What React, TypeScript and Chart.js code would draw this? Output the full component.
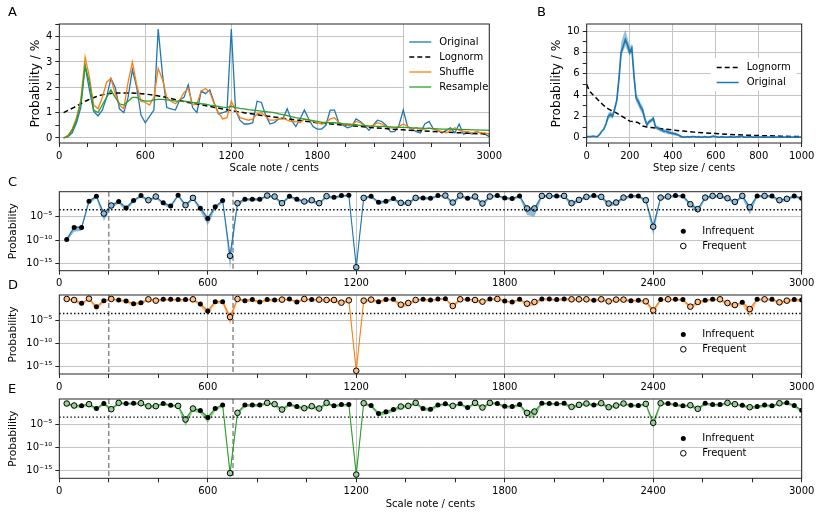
import React, { useEffect, useRef } from "react";
import { Chart, registerables } from "chart.js";
Chart.register(...registerables);

const FONT = "'DejaVu Sans', 'Liberation Sans', sans-serif";
const GRID = "#c4c4c4";
const FRAME = "#262626";
const BLUE = "#1f77b4";
const ORANGE = "#ff7f0e";
const GREEN = "#2ca02c";

// ---------- Panel A : scale note distributions (percent) ----------
const noteCents = Array.from({ length: 100 }, (_, i) => 30 * (i + 1));
const aOriginal = [0.0,0.05,0.2,0.6,1.2,2.85,1.9,1.05,0.87,1.1, 1.6,2.35,2.0,1.15,1.0,1.6,2.7,2.0,0.9,0.6, 0.85,1.1,4.3,2.5,1.2,1.15,1.1,1.5,1.6,2.1, 1.2,1.0,1.85,1.75,1.9,1.4,0.95,1.0,1.05,4.3, 1.1,0.7,0.55,0.55,0.6,1.45,1.4,0.9,0.55,0.6, 0.75,0.75,1.15,0.7,0.45,0.75,1.1,0.75,0.45,0.35, 0.35,0.5,1.1,1.1,0.6,0.5,0.4,0.45,0.75,0.65, 0.5,0.3,0.5,0.7,0.65,0.5,0.25,0.25,0.5,1.1, 0.45,0.35,0.25,0.2,0.55,0.65,0.35,0.3,0.2,0.3, 0.4,0.2,0.55,0.15,0.2,0.15,0.25,0.2,0.15,0.05];
const aShuffle = [0.0,0.1,0.35,0.8,1.5,3.2,2.4,1.3,1.15,1.6, 2.2,2.35,1.75,1.3,1.15,2.2,3.0,2.1,1.45,1.4, 1.3,1.6,2.75,2.3,1.6,1.45,1.35,1.5,1.8,1.95, 1.3,1.35,1.85,1.95,1.8,1.35,1.0,0.75,0.8,1.45, 1.1,0.8,0.75,0.7,0.75,0.95,1.0,0.85,0.7,0.7, 0.75,0.8,0.7,0.65,0.65,0.6,0.75,0.7,0.65,0.6, 0.55,0.6,0.75,0.8,0.6,0.55,0.5,0.5,0.65,0.6, 0.5,0.45,0.5,0.6,0.55,0.45,0.4,0.4,0.45,0.55, 0.45,0.35,0.4,0.35,0.35,0.4,0.35,0.3,0.25,0.2, 0.3,0.4,0.3,0.25,0.25,0.2,0.25,0.2,0.2,0.15];
const aResample = [0.0,0.05,0.3,0.7,1.4,2.85,2.2,1.1,1.0,1.3, 1.6,1.9,1.6,1.35,1.3,1.45,1.6,1.6,1.5,1.45, 1.45,1.5,1.52,1.52,1.5,1.48,1.45,1.45,1.45,1.43, 1.4,1.38,1.35,1.33,1.3,1.28,1.25,1.22,1.2,1.25, 1.2,1.17,1.15,1.12,1.1,1.08,1.06,1.04,1.02,1.0, 0.95,0.92,0.88,0.84,0.8,0.77,0.74,0.71,0.68,0.65, 0.62,0.61,0.6,0.6,0.58,0.56,0.55,0.53,0.52,0.5, 0.5,0.48,0.47,0.46,0.46,0.45,0.44,0.43,0.42,0.42, 0.41,0.4,0.4,0.39,0.38,0.38,0.37,0.36,0.35,0.35, 0.35,0.34,0.34,0.33,0.33,0.32,0.32,0.31,0.31,0.3];
const aLognormX = [30,100,200,300,400,500,600,700,800,900,1000,1200,1400,1600,1800,2000,2200,2400,2600,2800,3000];
const aLognorm = [1.0,1.2,1.5,1.7,1.77,1.77,1.73,1.65,1.53,1.4,1.3,1.08,0.9,0.75,0.6,0.5,0.4,0.32,0.26,0.2,0.15];
const aXTicks = [0,200,400,600,800,1000,1200,1400,1600,1800,2000,2200,2400,2600,2800,3000];
const aXLabels = [0,600,1200,1800,2400,3000];
const aYTicks = [0,0.5,1,1.5,2,2.5,3,3.5,4,4.5];
const aYLabels = [0,1,2,3,4];

// ---------- Panel B : step sizes (percent) ----------
const stepCents = Array.from({ length: 101 }, (_, i) => 10 * i);
const bOriginal = [0.1,0.1,0.1,0.15,0.1,0.1,0.3,0.6,0.8,1.3, 2.0,2.2,2.0,2.7,3.5,5.5,8.0,8.6,9.2,8.7, 8.0,8.4,5.8,3.7,3.4,2.9,2.6,1.8,1.2,1.5, 1.6,1.8,1.0,0.9,0.8,0.7,0.6,0.6,0.5,0.45, 0.4,0.35,0.3,0.2,0.1,0.05,0.05,0.1,0.05,0.1, 0.1,0.05,0.1,0.05,0.05,0.1,0.05,0.05,0.1,0.15, 0.1,0.05,0.05,0.1,0.05,0.05,0.05,0.1,0.05,0.05, 0.1,0.05,0.15,0.05,0.05,0.05,0.1,0.05,0.05,0.05, 0.05,0.05,0.05,0.05,0.05,0.05,0.05,0.05,0.05,0.05, 0.05,0.05,0.05,0.05,0.05,0.05,0.05,0.05,0.05,0.05,0.05];
const bBandX = [90,100,110,120,130,140,150,160,170,180,190,200,210,220,230,240,250,260,270,280,290,300,310,320,330,340,350,360,370,380,390,400,410,420,430,440,450,460];
const bBandLo = [1.1,1.7,1.9,1.8,2.4,3.2,5.0,7.6,8.1,8.6,8.1,7.7,8.0,5.3,3.3,3.0,2.5,2.2,1.5,1.0,1.3,1.4,1.6,0.8,0.7,0.6,0.5,0.4,0.4,0.3,0.3,0.25,0.2,0.15,0.1,0.0,0.0,0.0];
const bBandHi = [1.5,2.3,2.5,2.3,3.0,3.8,6.0,8.9,9.6,10.1,9.4,8.5,8.8,6.3,4.1,3.8,3.3,3.0,2.1,1.4,1.7,1.8,2.0,1.2,1.1,1.0,0.9,0.8,0.8,0.7,0.6,0.55,0.5,0.45,0.3,0.2,0.1,0.1];
const bLognormX = [0,10,20,30,45,60,80,100,120,140,160,180,200,220,240,260,280,300,350,400,450,500,550,600,650,700,750,800,850,900,950,1000];
const bLognorm = [5.0,4.5,4.2,4.0,3.7,3.4,3.0,2.7,2.5,2.3,2.05,1.8,1.55,1.5,1.4,1.1,1.0,0.95,0.82,0.72,0.62,0.52,0.45,0.4,0.32,0.27,0.23,0.2,0.17,0.14,0.12,0.1];
const bXTicks = [0,100,200,300,400,500,600,700,800,900,1000];
const bXLabels = [0,200,400,600,800,1000];
const bYTicks = [0,1,2,3,4,5,6,7,8,9,10];
const bYLabels = [0,2,4,6,8,10];

// ---------- Panels C, D, E : probability per note (log10 exponents) ----------
const cLog = [-9.86,-7.3,-7.3,-1.64,-0.57,-4.3,-2.57,-1.7,-3.1,-1.5, -0.43,-1.43,-0.64,-2.0,-2.7,-0.36,-2.5,-0.93,-3.14,-5.36, -2.86,-1.5,-13.4,-2.07,-1.2,-1.2,-1.2,-0.43,-0.64,-2.07, -0.57,-1.2,-1.7,-1.43,-2.07,-0.57,-0.79,-0.43,-0.36,-15.86, -0.93,-0.57,-1.86,-1.64,-1.07,-2.0,-2.0,-0.93,-0.93,-1.0, -0.43,-0.43,-1.93,-0.43,-1.0,-0.64,-2.14,-0.64,-0.43,-0.93, -1.07,-0.5,-3.2,-3.2,-0.5,-0.5,-0.5,-0.5,-2.07,-1.36, -0.71,-0.43,-0.71,-2.14,-1.93,-0.86,-0.5,-0.5,-1.43,-7.14, -0.86,-0.64,-0.43,-0.5,-2.29,-3.36,-0.86,-0.5,-0.5,-1.0, -1.79,-0.5,-2.93,-0.5,-0.5,-0.5,-1.43,-1.14,-0.5,-1.0];
const cLo = [-10.2,-8.2,-8.0,-2.2,-1.0,-5.9,-3.1,-2.2,-3.7,-1.9, -0.8,-1.9,-1.0,-2.5,-3.2,-0.7,-3.0,-1.4,-3.8,-6.8, -3.4,-2.0,-16.2,-2.6,-1.6,-1.6,-1.6,-0.8,-1.0,-2.6, -0.9,-1.6,-2.2,-1.9,-2.6,-0.9,-1.2,-0.8,-0.7,-16.3, -1.3,-0.9,-2.3,-2.1,-1.5,-2.5,-2.5,-1.3,-1.3,-1.4, -0.8,-0.8,-2.6,-0.8,-1.4,-1.0,-2.8,-1.0,-0.8,-1.3, -1.5,-0.9,-4.6,-5.0,-0.9,-0.9,-0.9,-0.9,-2.8,-1.8, -1.1,-0.8,-1.1,-2.8,-2.5,-1.3,-0.9,-0.9,-1.9,-8.9, -1.3,-1.0,-0.8,-0.9,-2.9,-4.2,-1.3,-0.9,-0.9,-1.4, -2.3,-0.9,-4.5,-0.9,-0.9,-0.9,-1.9,-1.6,-0.9,-1.4];
const cHi = [-9.5,-7.0,-7.0,-1.4,-0.4,-3.9,-2.3,-1.5,-2.8,-1.3, -0.3,-1.2,-0.5,-1.8,-2.4,-0.25,-2.2,-0.7,-2.9,-4.9, -2.6,-1.3,-12.8,-1.8,-1.0,-1.0,-1.0,-0.3,-0.5,-1.8, -0.4,-1.0,-1.5,-1.2,-1.8,-0.4,-0.6,-0.3,-0.25,-15.5, -0.7,-0.4,-1.6,-1.4,-0.9,-1.8,-1.8,-0.7,-0.7,-0.8, -0.3,-0.3,-1.7,-0.3,-0.8,-0.5,-1.9,-0.5,-0.3,-0.7, -0.9,-0.35,-2.9,-2.9,-0.35,-0.35,-0.35,-0.35,-1.8,-1.1, -0.5,-0.3,-0.5,-1.9,-1.7,-0.7,-0.35,-0.35,-1.2,-6.6, -0.7,-0.5,-0.3,-0.35,-2.0,-3.0,-0.7,-0.35,-0.35,-0.8, -1.6,-0.35,-2.6,-0.35,-0.35,-0.35,-1.2,-0.9,-0.35,-0.8];
const cFreq = ".....oo..." + ".oo...oo.." + "..oo...ooo" + "..oooo...o" + "o....ooo.." + ".ooo.ooo.." + "..oooo.ooo" + "o.oooo..oo" + "oo..oooooo" + "ooo.o.oo..";

const dLog = [-0.36,-0.58,-1.3,-0.29,-2.03,-0.72,-0.36,-0.58,-0.8,-1.38, -1.16,-0.43,-0.72,-0.43,-0.43,-0.5,-0.5,-0.43,-1.45,-2.97, -0.94,-0.94,-4.28,-0.36,-0.72,-0.5,-1.0,-0.5,-0.58,-0.5, -0.36,-1.0,-0.36,-0.5,-0.5,-0.58,-0.58,-1.16,-0.65,-15.9, -0.72,-0.5,-0.94,-0.5,-0.43,-1.6,-1.23,-0.58,-0.43,-0.58, -0.36,-0.29,-1.88,-0.43,-0.43,-0.58,-0.94,-0.36,-0.36,-0.8, -1.0,-0.43,-1.38,-1.0,-0.36,-0.36,-0.5,-0.36,-0.43,-0.43, -0.43,-0.65,-0.43,-0.87,-0.5,-0.5,-0.72,-0.65,-0.87,-2.83, -0.5,-0.43,-0.43,-0.5,-2.03,-1.0,-0.65,-0.43,-0.43,-1.23, -1.67,-1.09,-2.54,-0.43,-0.43,-0.43,-1.09,-0.72,-0.5,-0.58];
const dLo = [-0.7,-1.0,-1.8,-0.6,-2.9,-1.1,-0.7,-1.0,-1.2,-1.9, -1.6,-0.8,-1.1,-0.8,-0.8,-0.9,-0.9,-0.8,-2.0,-4.0, -1.4,-1.4,-5.9,-0.7,-1.1,-0.9,-1.4,-0.9,-1.0,-0.9, -0.7,-1.4,-0.7,-0.9,-0.9,-1.0,-1.0,-1.6,-1.0,-16.3, -1.1,-0.9,-1.4,-0.9,-0.8,-2.3,-1.9,-1.0,-0.8,-1.0, -0.7,-0.6,-2.4,-0.8,-0.8,-1.0,-1.4,-0.7,-0.7,-1.2, -1.4,-0.8,-2.0,-1.8,-0.7,-0.7,-0.9,-0.7,-0.8,-0.8, -0.8,-1.0,-0.8,-1.3,-0.9,-0.9,-1.1,-1.0,-1.3,-3.6, -0.9,-0.8,-0.8,-0.9,-2.6,-1.6,-1.0,-0.8,-0.8,-1.8, -2.2,-1.6,-4.3,-0.8,-0.8,-0.8,-1.6,-1.1,-0.9,-1.0];
const dHi = [-0.25,-0.4,-1.1,-0.2,-1.8,-0.5,-0.25,-0.4,-0.6,-1.2, -0.9,-0.3,-0.5,-0.3,-0.3,-0.35,-0.35,-0.3,-1.2,-2.6, -0.7,-0.7,-3.8,-0.25,-0.5,-0.35,-0.8,-0.35,-0.4,-0.35, -0.25,-0.8,-0.25,-0.35,-0.35,-0.4,-0.4,-0.9,-0.45,-15.5, -0.5,-0.35,-0.7,-0.35,-0.3,-1.3,-1.0,-0.4,-0.3,-0.4, -0.25,-0.2,-1.6,-0.3,-0.3,-0.4,-0.7,-0.25,-0.25,-0.6, -0.8,-0.3,-1.1,-0.8,-0.25,-0.25,-0.35,-0.25,-0.3,-0.3, -0.3,-0.45,-0.3,-0.6,-0.35,-0.35,-0.5,-0.45,-0.6,-2.5, -0.35,-0.3,-0.3,-0.35,-1.8,-0.8,-0.45,-0.3,-0.3,-1.0, -1.4,-0.9,-2.2,-0.3,-0.3,-0.3,-0.9,-0.5,-0.35,-0.4];
const dFreq = "oo.o..o..." + ".oo....o.." + "..oo.....o" + "..o.oooooo" + "oo...ooo.." + "..oo.oo.o." + "..oo....oo" + "o.oooo..oo" + ".o..oo..oo" + "o.o.o.oo..";

const eLog = [-0.57,-1.0,-1.07,-0.71,-1.64,-0.57,-1.79,-0.43,-0.57,-0.5, -0.5,-1.14,-1.14,-0.57,-0.93,-1.07,-4.0,-1.64,-2.07,-3.57, -1.64,-0.86,-15.5,-2.57,-0.86,-0.86,-0.86,-0.43,-0.71,-1.86, -0.71,-1.21,-1.57,-1.14,-1.64,-0.43,-1.07,-0.79,-0.79,-15.8, -0.5,-1.0,-2.71,-2.36,-1.86,-1.21,-1.07,-0.43,-1.64,-1.79, -0.86,-0.64,-1.07,-0.64,-1.43,-0.43,-1.43,-0.43,-0.57,-1.14, -1.21,-0.79,-2.57,-2.29,-0.5,-0.57,-0.64,-0.5,-1.29,-0.86, -0.57,-0.86,-0.5,-1.36,-1.0,-0.57,-0.93,-1.0,-0.64,-4.71, -0.5,-0.57,-0.79,-1.07,-0.93,-1.71,-0.5,-0.79,-0.79,-0.43, -0.71,-0.93,-1.36,-1.21,-0.86,-1.07,-0.5,-0.43,-1.0,-2.0];
const eLo = [-0.9,-1.4,-1.5,-1.1,-2.1,-0.9,-2.3,-0.8,-0.9,-0.9, -0.9,-1.6,-1.6,-0.9,-1.3,-1.5,-5.4,-2.3,-2.7,-4.7, -2.2,-1.3,-16.3,-3.1,-1.3,-1.3,-1.3,-0.8,-1.1,-2.5, -1.1,-1.7,-2.0,-1.6,-2.2,-0.8,-1.5,-1.2,-1.2,-16.3, -0.9,-1.4,-3.3,-3.0,-2.4,-1.7,-1.5,-0.8,-2.1,-2.3, -1.3,-1.0,-1.5,-1.0,-1.9,-0.8,-1.9,-0.8,-0.9,-1.6, -1.7,-1.2,-3.5,-3.6,-0.9,-0.9,-1.0,-0.9,-1.8,-1.3, -0.9,-1.3,-0.9,-1.8,-1.4,-0.9,-1.3,-1.4,-1.0,-5.9, -0.9,-0.9,-1.2,-1.5,-1.3,-2.2,-0.9,-1.2,-1.2,-0.8, -1.1,-1.3,-1.8,-1.7,-1.3,-1.5,-0.9,-0.8,-1.4,-2.5];
const eHi = [-0.4,-0.8,-0.9,-0.5,-1.4,-0.4,-1.5,-0.3,-0.4,-0.35, -0.35,-0.9,-0.9,-0.4,-0.7,-0.9,-3.6,-1.4,-1.8,-3.2, -1.4,-0.7,-15.1,-2.3,-0.7,-0.7,-0.7,-0.3,-0.5,-1.6, -0.5,-1.0,-1.3,-0.9,-1.4,-0.3,-0.9,-0.6,-0.6,-15.4, -0.35,-0.8,-2.4,-2.1,-1.6,-1.0,-0.9,-0.3,-1.4,-1.5, -0.7,-0.5,-0.9,-0.5,-1.2,-0.3,-1.2,-0.3,-0.4,-0.9, -1.0,-0.6,-2.3,-2.0,-0.35,-0.4,-0.5,-0.35,-1.0,-0.7, -0.4,-0.7,-0.35,-1.1,-0.8,-0.4,-0.7,-0.8,-0.5,-4.2, -0.35,-0.4,-0.6,-0.9,-0.7,-1.5,-0.35,-0.6,-0.6,-0.3, -0.5,-0.7,-1.1,-1.0,-0.7,-0.9,-0.35,-0.3,-0.8,-1.8];
const eFreq = "oo.o..oo.." + "ooo..ooo.." + "..oo...ooo" + "..oooo...o" + "o....ooo.." + "..o..ooo.." + "..oo....oo" + "o.oooo..oo" + "o...oo...o" + "o.o...o...";

const refLines = [200, 702];
const dottedLevel = 3.2e-4;
const logTicks = [1e-15, 1e-10, 1e-5];

// ---------- helpers ----------
const SUP: Record<string, string> = { "-": "\u207B", "0": "\u2070", "1": "\u00B9", "2": "\u00B2", "3": "\u00B3", "4": "\u2074", "5": "\u2075", "6": "\u2076", "7": "\u2077", "8": "\u2078", "9": "\u2079" };
const supText = (n: number) => String(n).split("").map((c) => SUP[c] || c).join("");
const pts = (xs: number[], ys: number[]) => xs.map((x, i) => ({ x, y: ys[i] }));
const tickFont = { family: FONT, size: 10 };

function linAxis(o: any) {
  return {
    type: o.type || "linear",
    min: o.min,
    max: o.max,
    bounds: "data",
    afterBuildTicks: (s: any) => { s.ticks = o.ticks.map((v: number) => ({ value: v })); },
    afterFit: (s: any) => { if (o.horizontal) s.height = o.size; else s.width = o.size; },
    ticks: {
      autoSkip: false, maxRotation: 0, minRotation: 0, padding: 3, color: "#000", font: tickFont,
      callback: o.label,
    },
    grid: {
      color: (ctx: any) => (ctx.tick && o.grid(ctx.tick.value) ? GRID : "rgba(0,0,0,0)"),
      lineWidth: 1, drawTicks: true, tickLength: 4, tickColor: FRAME, tickWidth: 1,
    },
    border: { display: false },
    title: o.title
      ? { display: true, text: o.title, color: "#000", font: { family: FONT, size: o.titleSize || 10 }, padding: o.titlePad }
      : { display: false },
  };
}

const has = (arr: number[]) => (v: number) => arr.some((a) => Math.abs(a - v) < 1e-9);

function framePlugin(letter: string, lx: number, ly: number) {
  return {
    id: "frame" + letter,
    afterDraw(chart: any) {
      const { ctx, chartArea: a } = chart;
      ctx.save();
      ctx.strokeStyle = FRAME;
      ctx.lineWidth = 1;
      ctx.strokeRect(a.left, a.top, a.right - a.left, a.bottom - a.top);
      ctx.fillStyle = "#000";
      ctx.font = `13px ${FONT}`;
      ctx.textAlign = "left";
      ctx.textBaseline = "middle";
      ctx.fillText(letter, lx, ly);
      ctx.restore();
    },
  };
}

function lineLegendPlugin(items: any[], box: { x0: number; y0: number; x1: number; y1: number }, lineX: number, firstY: number) {
  return {
    id: "lineLegend",
    afterDatasetsDraw(chart: any) {
      const { ctx, chartArea: a } = chart;
      ctx.save();
      ctx.fillStyle = "#fff";
      ctx.fillRect(a.right - box.x0, a.top + box.y0, box.x0 - box.x1, box.y1 - box.y0);
      items.forEach((it, i) => {
        const y = a.top + firstY + i * 15;
        const x = a.right - lineX;
        ctx.strokeStyle = it.color;
        ctx.lineWidth = it.width;
        ctx.setLineDash(it.dash);
        ctx.beginPath();
        ctx.moveTo(x, y);
        ctx.lineTo(x + 22, y);
        ctx.stroke();
        ctx.setLineDash([]);
        ctx.fillStyle = "#000";
        ctx.font = `10px ${FONT}`;
        ctx.textAlign = "left";
        ctx.textBaseline = "middle";
        ctx.fillText(it.label, x + 30, y);
      });
      ctx.restore();
    },
  };
}

function buildA() {
  return {
    type: "line",
    data: {
      datasets: [
        { label: "Original", data: pts(noteCents, aOriginal), borderColor: BLUE, borderWidth: 1.3, pointRadius: 0, tension: 0, order: 4 },
        { label: "Lognorm", data: pts(aLognormX, aLognorm), borderColor: "#000", borderWidth: 1.5, borderDash: [5, 3], pointRadius: 0, cubicInterpolationMode: "monotone", order: 3 },
        { label: "Shuffle", data: pts(noteCents, aShuffle), borderColor: ORANGE, borderWidth: 1.3, pointRadius: 0, tension: 0, order: 2 },
        { label: "Resample", data: pts(noteCents, aResample), borderColor: GREEN, borderWidth: 1.3, pointRadius: 0, tension: 0, order: 1 },
      ],
    },
    options: {
      responsive: false, animation: false, events: [],
      layout: { padding: { top: 24, right: 15, left: 0, bottom: 0 } },
      plugins: { legend: { display: false }, tooltip: { enabled: false } },
      scales: {
        x: linAxis({ horizontal: true, size: 33, min: 0, max: 3000, ticks: aXTicks, grid: has(aXLabels), label: (v: number) => (has(aXLabels)(v) ? String(v) : ""), title: "Scale note / cents", titlePad: { top: 0, bottom: 1.5 } }),
        y: linAxis({ size: 59.3, min: -0.2, max: 4.5, ticks: aYTicks, grid: has(aYLabels), label: (v: number) => (has(aYLabels)(v) ? String(v) : ""), title: "Probability / %", titleSize: 12.2, titlePad: { top: 29, bottom: 0 } }),
      },
    },
    plugins: [
      lineLegendPlugin(
        [
          { label: "Original", color: BLUE, dash: [], width: 1.3 },
          { label: "Lognorm", color: "#000", dash: [5, 3], width: 1.5 },
          { label: "Shuffle", color: ORANGE, dash: [], width: 1.3 },
          { label: "Resample", color: GREEN, dash: [], width: 1.3 },
        ],
        { x0: 85, y0: 8, x1: 0.5, y1: 71 }, 80, 18
      ),
      framePlugin("A", 8, 13),
    ],
  };
}

function buildB() {
  return {
    type: "line",
    data: {
      datasets: [
        { data: pts(bBandX, bBandLo), borderColor: "rgba(0,0,0,0)", borderWidth: 0, pointRadius: 0, fill: false, order: 6 },
        { data: pts(bBandX, bBandHi), borderColor: "rgba(0,0,0,0)", borderWidth: 0, pointRadius: 0, fill: "-1", backgroundColor: "rgba(31,119,180,0.45)", order: 5 },
        { label: "Lognorm", data: pts(bLognormX, bLognorm), borderColor: "#000", borderWidth: 1.5, borderDash: [5, 3], pointRadius: 0, order: 3 },
        { label: "Original", data: pts(stepCents, bOriginal), borderColor: BLUE, borderWidth: 1.7, pointRadius: 0, order: 1 },
      ],
    },
    options: {
      responsive: false, animation: false, events: [],
      layout: { padding: { top: 24, right: 20.3, left: 0, bottom: 0 } },
      plugins: { legend: { display: false }, tooltip: { enabled: false } },
      scales: {
        x: linAxis({ horizontal: true, size: 33, min: 0, max: 1000, ticks: bXTicks, grid: has(bXLabels), label: (v: number) => (has(bXLabels)(v) ? String(v) : ""), title: "Step size / cents", titlePad: { top: 0, bottom: 1.5 } }),
        y: linAxis({ size: 81.7, min: -0.5, max: 10.66, ticks: bYTicks, grid: has(bYLabels), label: (v: number) => (has(bYLabels)(v) ? String(v) : ""), title: "Probability / %", titleSize: 12.2, titlePad: { top: 44.5, bottom: 0 } }),
      },
    },
    plugins: [
      lineLegendPlugin(
        [
          { label: "Lognorm", color: "#000", dash: [5, 3], width: 1.5 },
          { label: "Original", color: BLUE, dash: [], width: 1.5 },
        ],
        { x0: 91, y0: 34, x1: 5, y1: 67 }, 85, 43.5
      ),
      framePlugin("B", 32, 13),
    ],
  };
}

function buildLog(p: any) {
  const toP = (arr: number[]) => arr.map((e) => Math.pow(10, e));
  const val = toP(p.logv);
  const inf = noteCents.map((x, i) => (p.flags[i] === "." ? { x, y: val[i] } : null)).filter(Boolean);
  const fr = noteCents.map((x, i) => (p.flags[i] === "o" ? { x, y: val[i] } : null)).filter(Boolean);
  const xLabels = [0, 600, 1200, 1800, 2400, 3000];
  return {
    type: "line",
    data: {
      datasets: [
        { data: pts(noteCents, toP(p.lo)), borderColor: "rgba(0,0,0,0)", borderWidth: 0, pointRadius: 0, fill: false, order: 10 },
        { data: pts(noteCents, toP(p.hi)), borderColor: "rgba(0,0,0,0)", borderWidth: 0, pointRadius: 0, fill: "-1", backgroundColor: p.band, order: 9 },
        { data: pts(noteCents, val), borderColor: p.color, borderWidth: 1.1, pointRadius: 0, order: 8 },
        { label: "Infrequent", data: inf, showLine: false, pointRadius: 2.5, pointBackgroundColor: "#000", pointBorderColor: "#000", pointBorderWidth: 0, order: 2 },
        { label: "Frequent", data: fr, showLine: false, pointRadius: 2.8, pointBackgroundColor: p.openFill, pointBorderColor: "#000", pointBorderWidth: 1, order: 1 },
      ],
    },
    options: {
      responsive: false, animation: false, events: [],
      layout: { padding: { top: p.padTop, right: 20.3, left: 0, bottom: 0 } },
      plugins: { legend: { display: false }, tooltip: { enabled: false } },
      scales: {
        x: linAxis({ horizontal: true, size: p.xSize, min: 0, max: 3000, ticks: aXTicks, grid: has(xLabels), label: (v: number) => (has(xLabels)(v) ? String(v) : ""), title: p.xTitle, titlePad: { top: 0, bottom: 7 } }),
        y: {
          ...linAxis({ type: "logarithmic", size: 59.3, min: Math.pow(10, -16.6), max: Math.pow(10, p.yTop), ticks: logTicks, grid: () => true, label: (v: number) => "10" + supText(Math.round(Math.log10(v))), title: "Probability", titleSize: 10.6, titlePad: { top: 7, bottom: 0 } }),
        },
      },
    },
    plugins: [
      {
        id: "refs",
        beforeDatasetsDraw(chart: any) {
          const { ctx, chartArea: a, scales } = chart;
          ctx.save();
          ctx.strokeStyle = "#7a7a7a";
          ctx.lineWidth = 1.3;
          ctx.setLineDash([5, 3]);
          refLines.forEach((c) => {
            const px = scales.x.getPixelForValue(c);
            ctx.beginPath();
            ctx.moveTo(px, a.top);
            ctx.lineTo(px, a.bottom);
            ctx.stroke();
          });
          ctx.restore();
        },
        afterDatasetsDraw(chart: any) {
          const { ctx, chartArea: a, scales } = chart;
          ctx.save();
          ctx.strokeStyle = "#000";
          ctx.lineWidth = 1.4;
          ctx.setLineDash([1.4, 2.3]);
          const py = scales.y.getPixelForValue(dottedLevel);
          ctx.beginPath();
          ctx.moveTo(a.left, py);
          ctx.lineTo(a.right, py);
          ctx.stroke();
          ctx.setLineDash([]);
          const mx = 683.3;
          const y1 = a.top + 39.5;
          const y2 = a.top + 54.3;
          ctx.fillStyle = "#000";
          ctx.beginPath();
          ctx.arc(mx, y1, 2.5, 0, Math.PI * 2);
          ctx.fill();
          ctx.fillStyle = "#fff";
          ctx.lineWidth = 1;
          ctx.beginPath();
          ctx.arc(mx, y2, 2.8, 0, Math.PI * 2);
          ctx.fill();
          ctx.stroke();
          ctx.fillStyle = "#000";
          ctx.font = `10px ${FONT}`;
          ctx.textAlign = "left";
          ctx.textBaseline = "middle";
          ctx.fillText("Infrequent", 702.3, y1);
          ctx.fillText("Frequent", 702.3, y2);
          ctx.restore();
        },
      },
      framePlugin(p.letter, 8, p.padTop - 9.5),
    ],
  };
}

function ChartBox({ left, top, width, height, build }: any) {
  const ref = useRef<HTMLCanvasElement | null>(null);
  useEffect(() => {
    const chart = new Chart(ref.current as HTMLCanvasElement, build() as any);
    return () => chart.destroy();
  }, []);
  return (
    <canvas
      ref={ref}
      width={width}
      height={height}
      style={{ position: "absolute", left, top, width, height }}
    />
  );
}

export default function App() {
  useEffect(() => {
    document.body.style.margin = "0";
  }, []);
  const cCfg = { letter: "C", logv: cLog, lo: cLo, hi: cHi, flags: cFreq, color: BLUE, band: "rgba(31,119,180,0.5)", openFill: "#8fbbd9", yTop: 0.4, padTop: 15.7, xSize: 19.3, xTitle: "" };
  const dCfg = { letter: "D", logv: dLog, lo: dLo, hi: dHi, flags: dFreq, color: ORANGE, band: "rgba(255,127,14,0.5)", openFill: "#ffbf86", yTop: 0.5, padTop: 15, xSize: 20, xTitle: "" };
  const eCfg = { letter: "E", logv: eLog, lo: eLo, hi: eHi, flags: eFreq, color: GREEN, band: "rgba(44,160,44,0.5)", openFill: "#95cf95", yTop: 0.4, padTop: 15, xSize: 38.7, xTitle: "Scale note / cents" };
  return (
    <div style={{ position: "relative", width: 822, height: 517, background: "#fff", overflow: "hidden" }}>
      <ChartBox left={0} top={0} width={505} height={176} build={buildA} />
      <ChartBox left={505} top={0} width={317} height={176} build={buildB} />
      <ChartBox left={0} top={176} width={822} height={114} build={() => buildLog(cCfg)} />
      <ChartBox left={0} top={280} width={822} height={114} build={() => buildLog(dCfg)} />
      <ChartBox left={0} top={384} width={822} height={133} build={() => buildLog(eCfg)} />
    </div>
  );
}
